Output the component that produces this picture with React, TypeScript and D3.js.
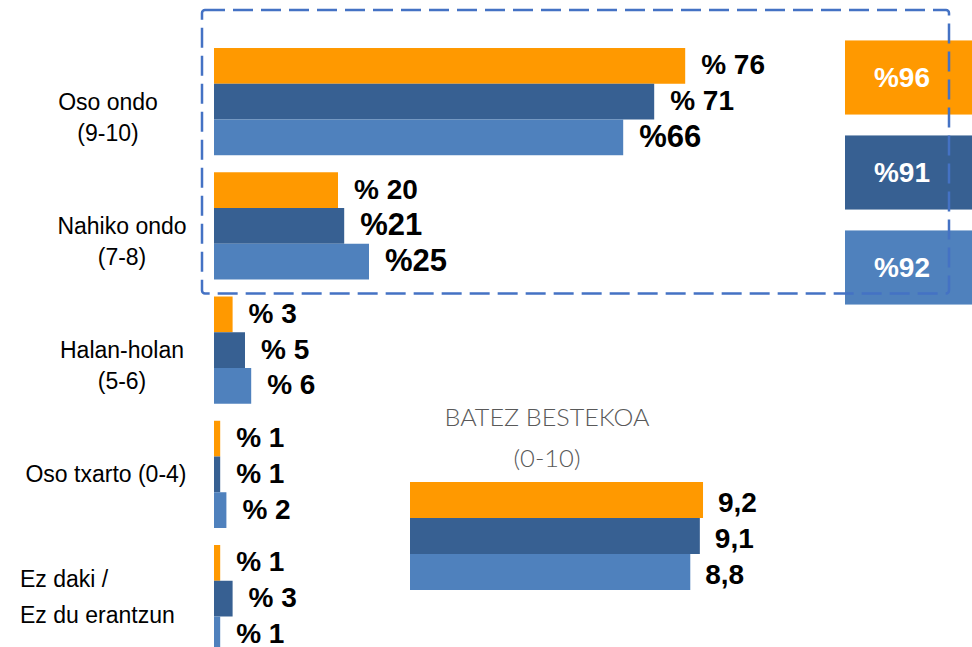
import { useEffect, useRef } from 'react';
import * as d3 from 'd3';

// categories (rows), top to bottom
const categories = ['Oso ondo', 'Nahiko ondo', 'Halan-holan', 'Oso txarto', 'Ez daki'];
const categoryLines = [
  ['Oso ondo', '(9-10)'],
  ['Nahiko ondo', '(7-8)'],
  ['Halan-holan', '(5-6)'],
  ['Oso txarto (0-4)'],
  ['Ez daki /', 'Ez du erantzun'],
];

// three series per row: orange, dark blue, light blue
const series = ['a', 'b', 'c'];
const seriesColors = ['#FF9900', '#376092', '#4F81BD'];

const orangeValues = [76, 20, 3, 1, 1];
const darkValues = [71, 21, 5, 1, 3];
const lightValues = [66, 25, 6, 2, 1];

const orangeLabels = ['% 76', '% 20', '% 3', '% 1', '% 1'];
const darkLabels = ['% 71', '%21', '% 5', '% 1', '% 3'];
const lightLabels = ['%66', '%25', '% 6', '% 2', '% 1'];

// "oso ondo + nahiko ondo" totals
const totalLabels = ['%96', '%91', '%92'];

// average score (0-10)
const averageTitle = ['BATEZ BESTEKOA', '(0-10)'];
const averages = [9.2, 9.1, 8.8];
const averageLabels = ['9,2', '9,1', '8,8'];

export default function App() {
  const svgRef = useRef<SVGSVGElement>(null);

  useEffect(() => {
    if (!svgRef.current) return;

    const svg = d3.select(svgRef.current);
    svg.selectAll('*').remove();

    const valuesBySeries = [orangeValues, darkValues, lightValues];
    const labelsBySeries = [orangeLabels, darkLabels, lightLabels];

    const x = d3.scaleLinear().domain([0, 100]).range([214, 834]);
    const y = d3
      .scaleBand()
      .domain(categories)
      .range([39.5, 660.75])
      .paddingInner(0.137)
      .paddingOuter(0.0685);
    const ySeries = d3.scaleBand().domain(series).range([0, y.bandwidth()]);

    const rows = categories.flatMap((c, i) =>
      series.map((s, j) => ({
        cat: c,
        s,
        j,
        value: valuesBySeries[j][i],
        label: labelsBySeries[j][i],
      }))
    );

    const bars = svg.append('g');
    bars
      .selectAll('rect')
      .data(rows)
      .enter()
      .append('rect')
      .attr('x', x(0))
      .attr('y', (d) => y(d.cat)! + ySeries(d.s)!)
      .attr('width', (d) => x(d.value) - x(0))
      .attr('height', ySeries.bandwidth())
      .attr('fill', (d) => seriesColors[d.j]);

    bars
      .selectAll('text')
      .data(rows)
      .enter()
      .append('text')
      .attr('x', (d) => x(d.value) + 16)
      .attr('y', (d) => y(d.cat)! + ySeries(d.s)! + ySeries.bandwidth() / 2 - 1)
      .attr('dominant-baseline', 'central')
      .attr('font-family', '"Liberation Sans", Arial, sans-serif')
      .attr('font-weight', 'bold')
      .attr('font-size', (d) => (d.label.includes(' ') ? 28 : 31))
      .attr('fill', '#000')
      .text((d) => d.label);

    // category labels
    const labelCenters = [108, 122, 122, 106];
    const cats = svg.append('g');
    categoryLines.forEach((lines, i) => {
      const cy = y(categories[i])! + y.bandwidth() / 2;
      const last = i === categoryLines.length - 1;
      const offsets = last ? [-20, 16] : lines.length === 1 ? [0] : [0, 31];
      lines.forEach((line, k) => {
        cats
          .append('text')
          .attr('x', last ? 20 : labelCenters[i])
          .attr('y', cy + offsets[k])
          .attr('text-anchor', last ? 'start' : 'middle')
          .attr('dominant-baseline', 'central')
          .attr('font-family', '"Liberation Sans", Arial, sans-serif')
          .attr('font-size', 23)
          .attr('fill', '#000')
          .text(line);
      });
    });

    // totals boxes on the right
    const yBox = d3
      .scaleBand()
      .domain(series)
      .range([30, 315])
      .paddingInner(0.22)
      .paddingOuter(0.11);
    const boxes = svg.append('g');
    totalLabels.forEach((t, j) => {
      boxes
        .append('rect')
        .attr('x', 845)
        .attr('y', yBox(series[j])!)
        .attr('width', 140)
        .attr('height', yBox.bandwidth())
        .attr('fill', seriesColors[j]);
      boxes
        .append('text')
        .attr('x', 902)
        .attr('y', yBox(series[j])! + yBox.bandwidth() / 2)
        .attr('text-anchor', 'middle')
        .attr('dominant-baseline', 'central')
        .attr('font-family', '"Liberation Sans", Arial, sans-serif')
        .attr('font-weight', 'bold')
        .attr('font-size', 28)
        .attr('fill', '#fff')
        .text(t);
    });

    // dashed frame around the first two rows
    const frameTop = y(categories[0])! - 38;
    const frameBottom = y(categories[1])! + y.bandwidth() + 14;
    svg
      .append('rect')
      .attr('x', 202)
      .attr('y', frameTop)
      .attr('width', 747)
      .attr('height', frameBottom - frameTop)
      .attr('rx', 3)
      .attr('fill', 'none')
      .attr('stroke', '#4472C4')
      .attr('stroke-width', 2.5)
      .attr('stroke-dasharray', '20 8');

    // average block
    const xAvg = d3.scaleLinear().domain([0, 10]).range([410, 728.5]);
    const yAvg = d3.scaleBand().domain(series).range([482, 590]);
    const avg = svg.append('g');
    averageTitle.forEach((line, k) => {
      avg
        .append('text')
        .attr('x', 547)
        .attr('y', 417 + k * 41)
        .attr('text-anchor', 'middle')
        .attr('dominant-baseline', 'central')
        .attr('font-family', 'Lato, "Open Sans", sans-serif')
        .attr('font-weight', 300)
        .attr('font-size', 23)
        .attr('fill', '#595959')
        .attr('textLength', k === 0 ? 205 : 67)
        .attr('lengthAdjust', 'spacingAndGlyphs')
        .text(line);
    });
    averages.forEach((v, j) => {
      avg
        .append('rect')
        .attr('x', xAvg(0))
        .attr('y', yAvg(series[j])!)
        .attr('width', xAvg(v) - xAvg(0))
        .attr('height', yAvg.bandwidth())
        .attr('fill', seriesColors[j]);
      avg
        .append('text')
        .attr('x', xAvg(v) + 15)
        .attr('y', yAvg(series[j])! + yAvg.bandwidth() / 2 + 2)
        .attr('dominant-baseline', 'central')
        .attr('font-family', '"Liberation Sans", Arial, sans-serif')
        .attr('font-weight', 'bold')
        .attr('font-size', 28)
        .attr('fill', '#000')
        .text(averageLabels[j]);
    });
  }, []);

  return (
    <svg
      ref={svgRef}
      width={972}
      height={647}
      style={{ position: 'absolute', left: 0, top: 0, background: '#fff' }}
    ></svg>
  );
}
